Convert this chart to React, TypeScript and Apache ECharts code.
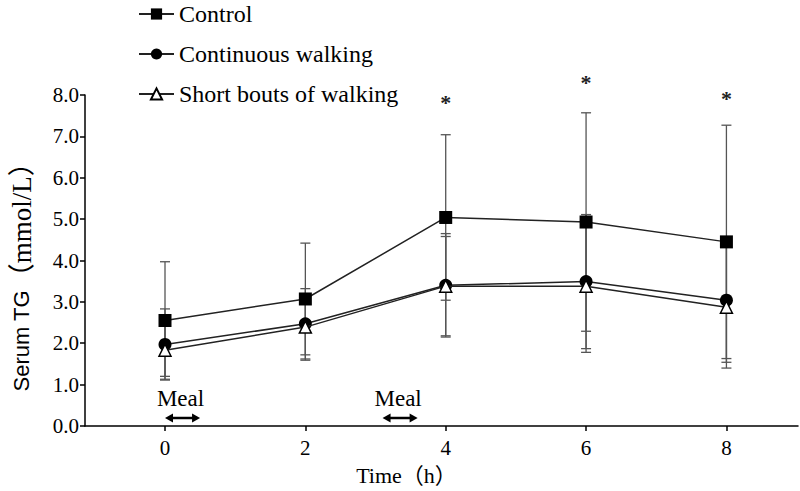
import React, { useEffect, useRef } from 'react';
import * as echarts from 'echarts';

// ---- data ----
const timeHours = [0, 2, 4, 6, 8];
const xTickValues = [0, 2, 4, 6, 8];
const controlMean = [2.55, 3.07, 5.04, 4.93, 4.45];
const controlSD = [1.42, 1.35, 2.0, 2.64, 2.82];
const continuousMean = [1.97, 2.47, 3.4, 3.49, 3.04];
const continuousSD = [0.86, 0.85, 1.25, 1.62, 1.5];
const shortMean = [1.83, 2.39, 3.38, 3.38, 2.87];
const shortSD = [0.63, 0.8, 1.2, 1.6, 1.47];
const starTimes = [4, 6, 8];
const starLevels = [7.87, 8.35, 7.97];
const mealStart = [0, 3.1];
const mealEnd = [0.5, 3.6];
const seriesNames = ['Control', 'Continuous walking', 'Short bouts of walking'];

const SERIF = 'Liberation Serif';
const SERIF_CJK = 'Liberation Serif, Noto Sans CJK SC, serif';
const SANS = 'Liberation Sans';

export default function App() {
  const ref = useRef<HTMLDivElement>(null);

  useEffect(() => {
    if (!ref.current) return;
    const chart = echarts.init(ref.current, null, { renderer: 'svg' });

    const pairs = (m: number[]) => timeHours.map((t, i) => [t, m[i]]);
    const errData: number[][] = [];
    [[controlMean, controlSD], [continuousMean, continuousSD], [shortMean, shortSD]].forEach(([m, s]) => {
      timeHours.forEach((t, i) => errData.push([t, m[i], s[i]]));
    });

    const option: any = {
      animation: false,
      backgroundColor: '#fff',
      textStyle: { fontFamily: SERIF, color: '#000' },
      grid: { left: 81, right: 2, top: 95, bottom: 63 },
      legend: {
        orient: 'vertical',
        left: 133,
        top: -3,
        itemWidth: 35,
        itemHeight: 14,
        itemGap: 16,
        textStyle: { fontFamily: SERIF, fontSize: 24, color: '#000' },
        data: seriesNames,
      },
      xAxis: {
        type: 'value',
        min: -1.14,
        max: 9.02,
        axisLine: { show: true, onZero: false, lineStyle: { color: '#000', width: 1.5 } },
        axisTick: { show: true, customValues: xTickValues, length: 5, lineStyle: { color: '#000', width: 1.5 } },
        axisLabel: { customValues: xTickValues, color: '#000', fontFamily: SERIF, fontSize: 21, margin: 12 },
        splitLine: { show: false },
        name: 'Time（h）',
        nameLocation: 'middle',
        nameGap: 38,
        nameTextStyle: { fontFamily: SERIF_CJK, fontSize: 22, color: '#000', padding: [0, 70, 0, 0] },
      },
      yAxis: {
        type: 'value',
        min: 0,
        max: 8,
        interval: 1,
        axisLine: { show: true, onZero: false, lineStyle: { color: '#000', width: 1.5 } },
        axisTick: { show: true, length: 5, lineStyle: { color: '#000', width: 1.5 } },
        axisLabel: { color: '#000', fontFamily: SERIF, fontSize: 21, margin: 6, formatter: (v: number) => v.toFixed(1) },
        splitLine: { show: false },
        name: '{a|Serum TG}{b|（mmol/L）}',
        nameLocation: 'middle',
        nameGap: 50,
        nameRotate: 90,
        nameTextStyle: {
          color: '#000',
          padding: [0, 20, 0, 0],
          rich: {
            a: { fontFamily: SANS, fontSize: 22, color: '#000' },
            b: { fontFamily: SERIF_CJK, fontSize: 27, color: '#000' },
          },
        },
      },
      series: [
        {
          type: 'custom',
          name: 'errorbars',
          z: 1,
          silent: true,
          encode: { x: 0, y: 1 },
          data: errData,
          renderItem: (params: any, api: any) => {
            const x = api.value(0), m = api.value(1), s = api.value(2);
            const top = api.coord([x, m + s]);
            const bot = api.coord([x, m - s]);
            const st = { stroke: '#555', lineWidth: 1.3 };
            const hw = 5;
            return {
              type: 'group',
              children: [
                { type: 'line', shape: { x1: top[0], y1: top[1], x2: bot[0], y2: bot[1] }, style: st },
                { type: 'line', shape: { x1: top[0] - hw, y1: top[1], x2: top[0] + hw, y2: top[1] }, style: st },
                { type: 'line', shape: { x1: bot[0] - hw, y1: bot[1], x2: bot[0] + hw, y2: bot[1] }, style: st },
              ],
            };
          },
        },
        {
          type: 'line',
          name: seriesNames[0],
          z: 3,
          data: pairs(controlMean),
          symbol: 'rect',
          symbolSize: 13,
          itemStyle: { color: '#000' },
          lineStyle: { color: '#222', width: 1.5 },
        },
        {
          type: 'line',
          name: seriesNames[1],
          z: 3,
          data: pairs(continuousMean),
          symbol: 'circle',
          symbolSize: 13,
          itemStyle: { color: '#000' },
          lineStyle: { color: '#222', width: 1.5 },
        },
        {
          type: 'line',
          name: seriesNames[2],
          z: 4,
          data: pairs(shortMean),
          symbol: 'triangle',
          symbolSize: 12,
          itemStyle: { color: '#fff', borderColor: '#000', borderWidth: 1.5 },
          lineStyle: { color: '#222', width: 1.5 },
        },
        {
          type: 'custom',
          name: 'stars',
          z: 5,
          silent: true,
          clip: false,
          encode: { x: 0, y: 1 },
          data: starTimes.map((t, i) => [t, starLevels[i]]),
          renderItem: (params: any, api: any) => {
            const p = api.coord([api.value(0), api.value(1)]);
            return {
              type: 'text',
              x: p[0],
              y: p[1] + 2,
              style: {
                text: '*',
                fill: '#222',
                fontFamily: SERIF,
                fontSize: 22,
                fontWeight: 'bold',
                align: 'center',
                verticalAlign: 'middle',
              },
            };
          },
        },
        {
          type: 'custom',
          name: 'meals',
          z: 5,
          silent: true,
          clip: false,
          encode: { x: [0, 1] },
          data: mealStart.map((s, i) => [s, mealEnd[i]]),
          renderItem: (params: any, api: any) => {
            const a = api.coord([api.value(0), 0]);
            const b = api.coord([api.value(1), 0]);
            const y = a[1] - 8;
            const ah = 8, aw = 4.5;
            return {
              type: 'group',
              children: [
                { type: 'line', shape: { x1: a[0] + 4, y1: y, x2: b[0] - 4, y2: y }, style: { stroke: '#000', lineWidth: 2.5 } },
                { type: 'polygon', shape: { points: [[a[0], y], [a[0] + ah, y - aw], [a[0] + ah, y + aw]] }, style: { fill: '#000' } },
                { type: 'polygon', shape: { points: [[b[0], y], [b[0] - ah, y - aw], [b[0] - ah, y + aw]] }, style: { fill: '#000' } },
                {
                  type: 'text',
                  x: (a[0] + b[0]) / 2 - 2,
                  y: a[1] - 27,
                  style: { text: 'Meal', fill: '#000', fontFamily: SERIF, fontSize: 23, align: 'center', verticalAlign: 'middle' },
                },
              ],
            };
          },
        },
      ],
    };

    chart.setOption(option);
    return () => chart.dispose();
  }, []);

  return (
    <div
      ref={ref}
      style={{ position: 'fixed', left: 0, top: 0, width: 800, height: 491, background: '#fff' }}
    />
  );
}
